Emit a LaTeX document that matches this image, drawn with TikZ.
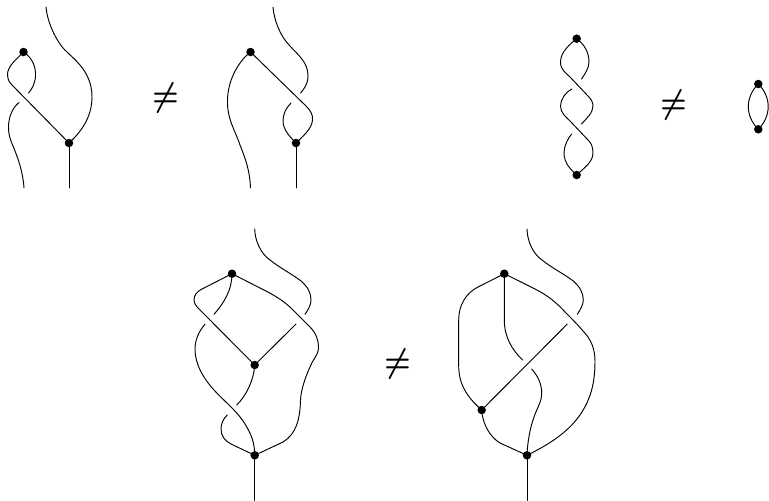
\documentclass[tikz,border=0pt]{standalone}
\tikzset{
  strand/.style={line width=0.95pt, line cap=round, line join=round, black},
  dotn/.style={circle, fill=black, inner sep=0pt, minimum size=8.5pt},
  neqn/.style={inner sep=0pt, xscale=2.95, yscale=3.4, font=\boldmath},
}
\begin{document}
\begin{tikzpicture}[x=1pt,y=-1pt]
\useasboundingbox (0,0) rectangle (769,501);
% diagram 1
\node[dotn] (a1) at (23.5,52) {};
\node[dotn] (a2) at (69,143) {};
\coordinate (a3) at (69,188);
\coordinate (a4) at (28.5,93);
\coordinate (a5) at (19,102.5);
\coordinate (a6) at (24,188);
\coordinate (a7) at (46,7);
\draw[strand] (a2.center) -- (a3);
\draw[strand] (a1.center) .. controls (18,58) and (7,66) .. (7.5,75) .. controls (8,81) and (10,83) .. (12,85) -- (a2.center);
\draw[strand] (a1.center) .. controls (33,58) and (36,68) .. (35.5,76) .. controls (35,84) and (32,89) .. (a4);
\draw[strand] (a5) .. controls (12,108) and (8.5,118) .. (8.5,127) .. controls (8.5,136) and (11,141) .. (13,146) .. controls (18,158) and (23,172) .. (a6);
\draw[strand] (a7) .. controls (47,20) and (54,37) .. (63,48) .. controls (72,58) and (92,70) .. (92,97) .. controls (92,118) and (80,133) .. (a2.center);
\node[neqn] (n1) at (165.5,97.5) {$\neq$};
% diagram 2
\node[dotn] (b1) at (250.5,52) {};
\node[dotn] (b2) at (296,143) {};
\coordinate (b3) at (296,188);
\coordinate (b4) at (250.5,188);
\coordinate (b5) at (273,7);
\coordinate (b6) at (300.5,93);
\coordinate (b7) at (291,103);
\draw[strand] (b2.center) -- (b3);
\draw[strand] (b1.center) .. controls (240,60) and (228,78) .. (227.5,100) .. controls (227,120) and (236,132) .. (240,145) .. controls (246,160) and (250,172) .. (b4);
\draw[strand] (b1.center) -- (306,106) .. controls (311,111) and (313,115) .. (312.5,120) .. controls (312,129) and (302,137) .. (b2.center);
\draw[strand] (b7) .. controls (286,108) and (283,114) .. (283,121) .. controls (283,130) and (291,138) .. (b2.center);
\draw[strand] (b5) .. controls (274,20) and (280,36) .. (290,46) .. controls (298,55) and (308,62) .. (308,76) .. controls (308,84) and (304,89) .. (b6);
% diagram 3
\node[dotn] (c1) at (576.7,38.7) {};
\node[dotn] (c2) at (576.7,175) {};
\coordinate (c3) at (581.5,79);
\coordinate (c4) at (571.7,89);
\coordinate (c5) at (581.5,124);
\coordinate (c6) at (571.7,134);
\draw[strand] (c1.center) .. controls (570,44) and (560.5,52) .. (560.5,62) .. controls (560.5,70) and (566,73) .. (570,77) -- (588,96) .. controls (591,99) and (593,102) .. (593,106) .. controls (593,113) and (586,119) .. (c5);
\draw[strand] (c1.center) .. controls (584,44) and (589,52) .. (589,62) .. controls (589,68) and (585,74) .. (c3);
\draw[strand] (c4) .. controls (566,92) and (560.5,99) .. (560.5,106) .. controls (560.5,113) and (566,117) .. (570,121) -- (589,141) .. controls (592,144) and (593,149) .. (593,153) .. controls (593,162) and (584,168) .. (c2.center);
\draw[strand] (c6) .. controls (568,138) and (564,146) .. (564,153) .. controls (564,163) and (571,170) .. (c2.center);
\node[neqn] (n2) at (673.5,105) {$\neq$};
\node[dotn] (d1) at (758.3,84) {};
\node[dotn] (d2) at (758.3,129.3) {};
\draw[strand] (d1.center) .. controls (745,97) and (745,116) .. (d2.center);
\draw[strand] (d1.center) .. controls (771.5,97) and (771.5,116) .. (d2.center);
% diagram 4
\node[dotn] (e1) at (232,273.7) {};
\node[dotn] (e2) at (254.7,365) {};
\node[dotn] (e3) at (254.7,455.3) {};
\coordinate (e4) at (254.7,500.5);
\coordinate (e5) at (254.7,229);
\coordinate (e6) at (305,314.3);
\coordinate (e7) at (214,314.3);
\coordinate (e8) at (296,324);
\coordinate (e9) at (205,324.3);
\coordinate (e10) at (236.7,405);
\coordinate (e11) at (227.3,415);
\draw[strand] (e3.center) -- (e4);
\draw[strand] (e2.center) -- (e8);
\draw[strand] (e5) .. controls (255,240) and (260,253) .. (270,260) .. controls (280,268) and (292,274) .. (301,281) .. controls (308,287) and (311,293) .. (311,300) .. controls (311,305) and (308,310) .. (e6);
\draw[strand] (e1.center) -- (202,289) .. controls (196,292) and (194,296) .. (194,300) .. controls (194,303) and (196,306) .. (199,309) -- (e2.center);
\draw[strand] (e1.center) .. controls (232,290) and (224,303) .. (e7);
\draw[strand] (e1.center) -- (262,289) .. controls (272,294) and (283,300) .. (292,309) .. controls (298,315) and (305,322) .. (310,327) .. controls (316,333) and (318.5,340) .. (318.5,347) .. controls (318.5,356) and (312,360) .. (310,367) .. controls (305,378) and (301,390) .. (300.5,400) .. controls (300,420) and (296,434) .. (283,442) -- (e3.center);
\draw[strand] (e9) .. controls (199,331) and (195,340) .. (195,349) .. controls (195,365) and (204,379) .. (214,390) .. controls (224,401) and (238,412) .. (245,424) .. controls (251,434) and (254.7,442) .. (e3.center);
\draw[strand] (e2.center) .. controls (254,380) and (246,396) .. (e10);
\draw[strand] (e11) .. controls (223,419) and (221,424) .. (221,429) .. controls (221,436) and (225,441) .. (231,444) -- (e3.center);
\node[neqn] (n3) at (397.5,364) {$\neq$};
% diagram 5
\node[dotn] (f1) at (504.3,273.7) {};
\node[dotn] (f2) at (481.7,410) {};
\node[dotn] (f3) at (527,455.3) {};
\coordinate (f4) at (527,500.5);
\coordinate (f5) at (527,229);
\coordinate (f6) at (577.3,314.3);
\coordinate (f7) at (522.7,360);
\coordinate (f8) at (567.3,324);
\coordinate (f9) at (531.7,369);
\draw[strand] (f3.center) -- (f4);
\draw[strand] (f2.center) -- (f8);
\draw[strand] (f5) .. controls (527.3,240) and (532,253) .. (542,260) .. controls (552,268) and (564,274) .. (573.3,281) .. controls (580,287) and (583.3,293) .. (583.3,300) .. controls (583.3,305) and (580,310) .. (f6);
\draw[strand] (f1.center) -- (478,287) .. controls (466,293) and (458.7,305) .. (458.7,320) -- (458.7,366) .. controls (458.7,385) and (468,398) .. (f2.center);
\draw[strand] (f1.center) -- (504.3,320) .. controls (504.3,337) and (512,350) .. (f7);
\draw[strand] (f1.center) -- (535,289) .. controls (547,295) and (556,302) .. (566,313) .. controls (572,319) and (578,325) .. (583,331) .. controls (591,339) and (595,349) .. (595,361) .. controls (595,385) and (590,400) .. (580,415) .. controls (568,432) and (550,444) .. (f3.center);
\draw[strand] (f2.center) .. controls (482.5,424) and (490,437) .. (500,443) -- (f3.center);
\draw[strand] (f9) .. controls (537,375) and (541.7,383) .. (541.7,393) .. controls (541.7,402) and (537,408) .. (534,417) .. controls (530,428) and (527.5,442) .. (f3.center);
\end{tikzpicture}
\end{document}
